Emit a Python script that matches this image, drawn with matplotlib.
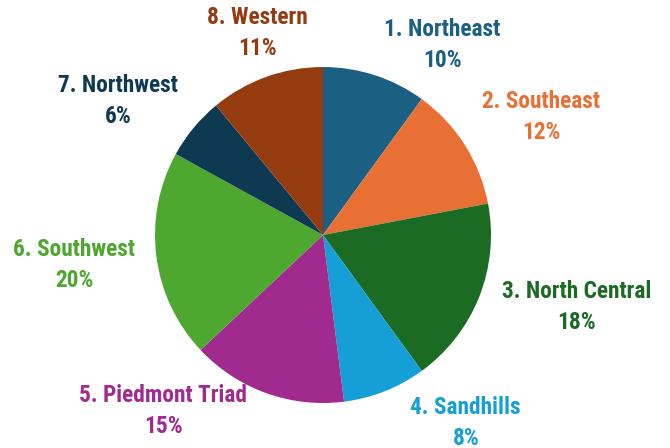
import matplotlib
matplotlib.use("Agg")
import matplotlib.pyplot as plt
from matplotlib import font_manager

regions = ["1. Northeast", "2. Southeast", "3. North Central", "4. Sandhills",
           "5. Piedmont Triad", "6. Southwest", "7. Northwest", "8. Western"]
shares = [10, 12, 18, 8, 15, 20, 6, 11]
colors = ["#1b5f82", "#e87035", "#1c6b24", "#169fd6",
          "#a02a8e", "#4ea72e", "#0e3a51", "#953b10"]

# label block centres, in units of the pie radius (text layout only)
label_pos = [(0.71, 1.13), (1.30, 0.70), (1.51, -0.43), (0.85, -1.12),
             (-0.95, -1.05), (-1.48, -0.18), (-1.22, 0.80), (-0.39, 1.20)]

# pick a narrow font if one is around
names = {f.name for f in font_manager.fontManager.ttflist}
condensed = [n for n in names if "Condensed" in n or "Narrow" in n]
stretch = "normal"
size = 16.8
if "Roboto Condensed" in names:
    family = ["Roboto Condensed", "DejaVu Sans"]
elif condensed:
    family = [sorted(condensed)[0], "DejaVu Sans"]
else:
    family = ["DejaVu Sans"]
    stretch = "condensed"
    size = 14

fig = plt.figure(figsize=(6.7, 4.48), dpi=100)
ax = fig.add_axes([0, 0, 1, 1])

r_px = 168
cx, cy = 323, 235
ax.pie(shares, colors=colors, startangle=90, counterclock=False, radius=1,
       wedgeprops=dict(linewidth=0))
ax.set_xlim(-cx / r_px, (670 - cx) / r_px)
ax.set_ylim(-(448 - cy) / r_px, cy / r_px)
ax.set_aspect("auto")
ax.axis("off")

for name, val, col, (x, y) in zip(regions, shares, colors, label_pos):
    ax.text(x, y, f"{name}\n{val}%", ha="center", va="center", color=col,
            fontsize=size, fontweight="bold", family=family, fontstretch=stretch,
            linespacing=1.45)

fig.savefig("out.png", dpi=100)
